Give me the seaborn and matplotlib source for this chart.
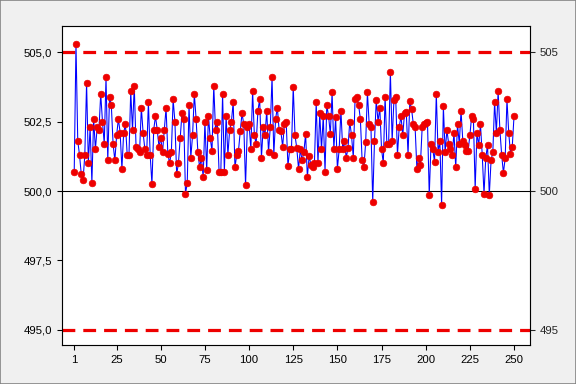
import numpy as np
import pandas as pd
import matplotlib
matplotlib.use("Agg")
import matplotlib.pyplot as plt
import seaborn as sns

values = [
    500.7, 505.3, 501.8, 501.3, 500.6, 500.4, 501.3, 503.9, 501.0, 502.3,
    500.3, 502.6, 501.5, 502.3, 502.2, 503.5, 502.5, 501.7, 504.1,
    501.1, 503.4, 503.1, 501.7, 501.1, 502.0, 502.6, 502.1, 500.8, 502.1,
    502.4, 501.3, 501.3, 503.6, 502.2, 503.8, 501.6, 501.5, 501.4, 503.0,
    502.1, 501.5,
    501.3, 503.2, 501.3, 500.25, 502.2, 502.7, 502.2, 501.6, 501.9, 501.4,
    502.2, 503.0, 501.35, 501.0, 501.4, 503.3, 502.5, 500.6, 501.0, 501.9,
    502.8, 502.6,
    499.9, 500.3, 503.1, 501.2, 502.0, 503.5, 502.6, 501.4, 500.85, 501.2,
    500.5, 502.5, 500.75, 502.7, 501.9, 501.45, 503.8, 502.2, 502.5, 500.7,
    500.7, 503.5,
    500.7, 502.7, 501.3, 502.2, 502.5, 503.2, 500.85, 501.3, 501.45, 502.15,
    502.8, 502.4, 500.2, 502.3, 502.4, 501.5, 503.6, 502.0, 501.7, 502.9,
    503.3, 501.2,
    502.3, 502.0, 502.9, 501.4, 502.3, 504.1, 501.3, 502.6, 503.0, 502.2,
    502.15, 501.6, 502.4, 502.5, 500.9, 501.5, 501.5, 503.75, 502.0, 501.55,
    500.8,
    501.5, 501.1, 501.4, 502.05, 500.5, 501.25, 500.95, 500.85, 501.0, 503.2,
    501.0, 502.8, 501.5, 502.7, 500.7, 503.1, 502.7, 502.05, 503.55, 501.5,
    502.65, 500.8,
    501.5, 502.9, 501.5, 501.8, 501.2, 501.55, 502.5, 502.0, 501.2, 503.3,
    503.4, 503.1, 502.6, 501.1, 500.85, 501.75, 503.55, 502.4, 502.3, 499.6,
    501.8,
    503.27, 502.5, 503.0, 501.5, 501.0, 503.4, 501.7, 501.7, 504.28, 501.8,
    503.27, 503.4, 501.3, 502.3, 502.7, 502.0, 502.8, 502.85, 501.3, 503.25,
    502.95, 502.4, 502.3, 500.8, 501.2, 500.95, 502.3, 502.4, 502.45, 502.5,
    499.85, 501.7, 501.5, 501.05, 503.5, 501.4, 501.8, 499.5, 503.05, 501.4,
    502.2, 501.7,
    501.5, 501.3, 502.1, 500.85, 502.4, 501.7, 502.9, 501.8, 501.65, 501.45,
    501.45, 502.0, 502.7, 502.6, 500.07, 502.1, 501.65, 502.4, 501.3, 499.9,
    501.2, 501.65, 499.85, 501.1, 501.4, 503.2, 502.1, 503.6, 502.2, 501.3,
    500.65, 501.2, 503.3, 502.1, 501.35, 501.6, 502.7,
]
observation = list(range(1, len(values) + 1))

upper_limit = 505
lower_limit = 495
center_line = 500

x_ticks = [1, 25, 50, 75, 100, 125, 150, 175, 200, 225, 250]
y_ticks = [495.0, 497.5, 500.0, 502.5, 505.0]

df = pd.DataFrame({"Observation": observation, "Value": values})

sns.set_style("white")
plt.rcParams["font.family"] = ["Liberation Sans", "DejaVu Sans"]

fig = plt.figure(figsize=(6, 4), dpi=96, facecolor="#f0f0f0")
ax = fig.add_axes([0.108, 0.102, 0.812, 0.830])
ax.set_facecolor("white")

ax.axhline(center_line, color="black", lw=0.8, zorder=1)
ax.axhline(upper_limit, color="#ee0000", lw=2.4, ls=(0, (4, 2.5)), zorder=1)
ax.axhline(lower_limit, color="#ee0000", lw=2.4, ls=(0, (4, 2.5)), zorder=1)

sns.lineplot(data=df, x="Observation", y="Value", ax=ax, color="#0000ff", lw=0.8,
             marker="o", markersize=5, markerfacecolor="#ee0000",
             markeredgecolor="#ee0000", markeredgewidth=0.5, zorder=3)

ax.set_xlim(-5.8, 259)
ax.set_ylim(494.46, 505.94)
ax.set_xticks(x_ticks)
ax.set_xticklabels([str(t) for t in x_ticks])
ax.set_yticks(y_ticks)
ax.set_yticklabels([f"{t:.1f}".replace(".", ",") for t in y_ticks])
ax.set_xlabel("")
ax.set_ylabel("")
ax.tick_params(axis="both", direction="out", length=4, width=0.8, labelsize=8.5,
               colors="black", left=True, bottom=True)

ax2 = ax.twinx()
ax2.set_ylim(ax.get_ylim())
ax2.set_yticks([lower_limit, center_line, upper_limit])
ax2.set_yticklabels([str(lower_limit), str(center_line), str(upper_limit)])
ax2.tick_params(axis="y", direction="out", length=4, width=0.8, labelsize=8.5, right=True)

for a in (ax, ax2):
    for s in a.spines.values():
        s.set_color("black")
        s.set_linewidth(0.8)

fig.patches.append(plt.Rectangle((0, 0), 1, 1, transform=fig.transFigure,
                                 fill=False, edgecolor="#808080", lw=1.2))

fig.savefig("out.png", dpi=96, facecolor=fig.get_facecolor())
